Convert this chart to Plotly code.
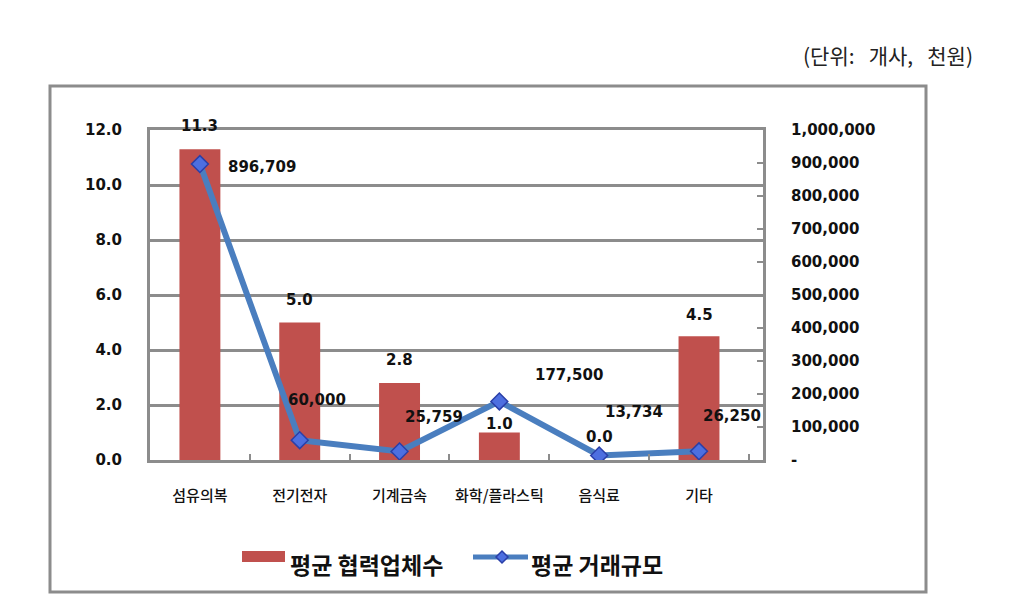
import plotly.graph_objects as go

categories = ["섬유의복", "전기전자", "기계금속", "화학/플라스틱", "음식료", "기타"]
partners = [11.3, 5.0, 2.8, 1.0, 0.0, 4.5]
trade = [896709, 60000, 25759, 177500, 13734, 26250]
series_names = ["평균 협력업체수", "평균 거래규모"]
left_ticks = [0, 2, 4, 6, 8, 10, 12]
right_ticks = [0, 100000, 200000, 300000, 400000, 500000, 600000, 700000, 800000, 900000, 1000000]
right_ticktext = ["-"] + [f"{v:,}" for v in right_ticks[1:]]

W, H = 1017, 598
L, R, T, B = 150, 763, 130, 460


def px(x):
    return (x - L) / (R - L)


def py(y):
    return (B - y) / (B - T)


BAR_COLOR = "#c0504d"
LINE_COLOR = "#4a7ebf"
MK_FILL = "#4d6fe0"
MK_LINE = "#2a3fa8"

fig = go.Figure()
fig.add_trace(go.Bar(
    x=categories, y=partners, name=series_names[0],
    marker=dict(color=BAR_COLOR, line=dict(width=0)), width=0.41, yaxis="y",
))
fig.add_trace(go.Scatter(
    x=categories, y=trade, name=series_names[1], yaxis="y2", mode="lines+markers",
    line=dict(color=LINE_COLOR, width=6),
    marker=dict(symbol="diamond", size=13, color=MK_FILL, line=dict(color=MK_LINE, width=1.5)),
))

lab_font = dict(family="DejaVu Sans", size=15, color="#111111")
bar_shift = [12, 12, 12, -2, 12, 10]
for c, v, dy in zip(categories, partners, bar_shift):
    fig.add_annotation(x=c, y=v, xref="x", yref="y", text=f"<b>{v:.1f}</b>", showarrow=False,
                       font=lab_font, yanchor="bottom", yshift=dy)
line_shift = [(26, -3), (-14, 40), (3, 35), (34, 26), (4, 43), (2, 35)]
for c, v, (dx, dy) in zip(categories, trade, line_shift):
    fig.add_annotation(x=c, y=v, xref="x", yref="y2", text=f"<b>{v:,}</b>", showarrow=False,
                       font=lab_font, xanchor="left", yanchor="middle", xshift=dx, yshift=dy)

# unit note
fig.add_annotation(xref="paper", yref="paper", x=px(975), y=py(55),
                   text="(단위:&nbsp;&nbsp;&nbsp;개사,&nbsp;&nbsp;&nbsp;천원)", showarrow=False,
                   xanchor="right", yanchor="middle",
                   font=dict(family="Noto Sans CJK KR", size=21, color="#222222"))

# outer frame
fig.add_shape(type="rect", xref="paper", yref="paper",
              x0=px(50), x1=px(926), y0=py(592), y1=py(86),
              line=dict(color="#8c8c8c", width=3), layer="below")

# custom legend
leg_font = dict(family="Noto Sans CJK KR", size=23, color="#111111", weight="bold")
fig.add_shape(type="rect", xref="paper", yref="paper",
              x0=px(242), x1=px(285), y0=py(562), y1=py(551),
              fillcolor=BAR_COLOR, line=dict(width=0))
fig.add_annotation(xref="paper", yref="paper", x=px(288), y=py(564), text=series_names[0],
                   showarrow=False, xanchor="left", yanchor="middle", font=leg_font)
fig.add_shape(type="line", xref="paper", yref="paper",
              x0=px(473), x1=px(528), y0=py(557), y1=py(557),
              line=dict(color=LINE_COLOR, width=5))
d = 6
fig.add_shape(type="path", xref="paper", yref="paper",
              path=f"M {px(502-d)} {py(557)} L {px(502)} {py(557-d)} L {px(502+d)} {py(557)} L {px(502)} {py(557+d)} Z",
              fillcolor=MK_FILL, line=dict(color=MK_LINE, width=1.5))
fig.add_annotation(xref="paper", yref="paper", x=px(529), y=py(564), text=series_names[1],
                   showarrow=False, xanchor="left", yanchor="middle", font=leg_font)

grid = "#8c8c8c"
fig.update_layout(
    width=W, height=H,
    margin=dict(l=L, r=W - R, t=T, b=H - B),
    paper_bgcolor="white", plot_bgcolor="white",
    showlegend=False,
    xaxis=dict(type="category", showline=True, linecolor=grid, linewidth=3, mirror=True,
               ticks="inside", ticklen=6, tickcolor=grid, tickwidth=2, tickson="boundaries",
               tickfont=dict(family="Noto Sans CJK KR", size=15, color="#111111", weight=500),
               ticklabelstandoff=20, showgrid=False),
    yaxis=dict(range=[0, 12], tickvals=left_ticks, tickformat=".1f", showgrid=True,
               gridcolor=grid, gridwidth=3, showline=True, linecolor=grid, linewidth=3,
               ticks="", tickfont=dict(family="DejaVu Sans", size=15, color="#111111", weight="bold"),
               ticklabelstandoff=22, zeroline=False),
    yaxis2=dict(range=[0, 1000000], overlaying="y", side="right", tickvals=right_ticks,
                ticktext=right_ticktext, showgrid=False, showline=True, linecolor=grid, linewidth=3,
                ticks="inside", ticklen=6, tickcolor=grid, tickwidth=2,
                tickfont=dict(family="DejaVu Sans", size=15, color="#111111", weight="bold"),
                ticklabelstandoff=22, zeroline=False),
)
fig.write_html("out.html")
